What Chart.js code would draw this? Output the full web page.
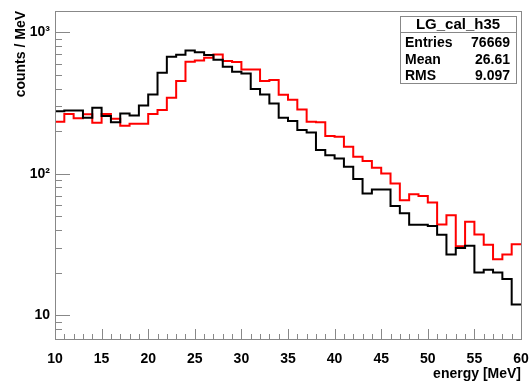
<!DOCTYPE html>
<html>
<head>
<meta charset="utf-8">
<script src="https://cdn.jsdelivr.net/npm/chart.js@4.4.0/dist/chart.umd.min.js"></script>
<style>
  html, body { margin: 0; padding: 0; background: #fff; }
</style>
</head>
<body>
<canvas id="c" width="529" height="383"></canvas>
<script>
// histogram bins (1 MeV wide, low edges), last edge separately
const binLow = [10,11,12,13,14,15,16,17,18,19,20,21,22,23,24,25,26,27,28,29,
                30,31,32,33,34,35,36,37,38,39,40,41,42,43,44,45,46,47,48,49,
                50,51,52,53,54,55,56,57,58,59];
const binHigh = 60;

// counts / MeV
const blackCounts = [277,280,280,249,293,256,231,267,258,304,
                     364,518,672,694,745,722,691,640,571,527,
                     512,397,364,314,249,236,204,196,147,135,
                     128,112,91.6,72.5,77.4,77.4,59,52.6,43.6,43.6,
                     42.7,37,26.8,29.8,30.9,20,20.9,20,18,11.9];
const redCounts = [233,264,247,263,229,264,245,218,226,226,
                   264,282,345,452,620,633,661,698,626,616,
                   547,547,452,460,362,334,285,233,231,184.5,
                   182.5,155,131.7,122.8,110.2,100.4,85.3,65,71.5,69.6,
                   62.6,43.8,50.8,30.7,45.7,37.2,31.4,24.8,26.8,31.7];

// axes
const xMajorTicks = [10,15,20,25,30,35,40,45,50,55,60];
const yMajorTicks = [10,100,1000];
const yTickLabels = ['10','10\u00B2','10\u00B3'];
const yMinorTicks = [8,9,20,30,40,50,60,70,80,90,200,300,400,500,600,700,800,900];

// stats box
const statsTitle = 'LG_cal_h35';
const statsNames = ['Entries','Mean','RMS'];
const statsValues = ['76669','26.61','9.097'];

const FONT = "'Liberation Sans', Arial, Helvetica, sans-serif";
Chart.defaults.font.family = FONT;

function histPoints(counts){
  const pts = binLow.map((x,i)=>({x:x, y:counts[i]}));
  pts.push({x:binHigh, y:counts[counts.length-1]});
  return pts;
}

// ROOT style frame with inside ticks
const frameAndTicks = {
  id: 'frameAndTicks',
  afterDatasetsDraw(chart){
    const {ctx, chartArea:a, scales:{x, y}} = chart;
    ctx.save();
    ctx.strokeStyle = '#888';
    ctx.lineWidth = 1;
    ctx.strokeRect(Math.round(a.left)+0.5, Math.round(a.top)+0.5,
                   Math.round(a.right-a.left), Math.round(a.bottom-a.top));
    ctx.beginPath();
    x.ticks.forEach(t=>{
      const px = Math.round(x.getPixelForValue(t.value))+0.5;
      const len = xMajorTicks.includes(t.value) ? 10 : 5;
      ctx.moveTo(px, a.bottom); ctx.lineTo(px, a.bottom-len);
    });
    y.ticks.forEach(t=>{
      const py = Math.round(y.getPixelForValue(t.value))+0.5;
      const len = yMajorTicks.includes(t.value) ? 15 : 7;
      ctx.moveTo(a.left, py); ctx.lineTo(a.left+len, py);
    });
    ctx.stroke();
    ctx.restore();
  }
};

const statsBox = {
  id: 'statsBox',
  afterDraw(chart){
    const ctx = chart.ctx;
    const bx = 400, by = 16, bw = 116, bh = 67;
    ctx.save();
    ctx.fillStyle = '#fff';
    ctx.fillRect(bx, by, bw, bh);
    ctx.strokeStyle = '#888';
    ctx.lineWidth = 1;
    ctx.strokeRect(bx+0.5, by+0.5, bw, bh);
    ctx.beginPath();
    ctx.moveTo(bx, by+16.5); ctx.lineTo(bx+bw, by+16.5);
    ctx.stroke();
    ctx.fillStyle = '#000';
    ctx.textBaseline = 'middle';
    ctx.font = 'bold 15px ' + FONT;
    ctx.textAlign = 'center';
    ctx.fillText(statsTitle, bx+bw/2, by+9);
    ctx.font = 'bold 14px ' + FONT;
    statsNames.forEach((n,i)=>{
      const ty = by + 27.5 + i*16.5;
      ctx.textAlign = 'left';
      ctx.fillText(n, bx+5, ty);
      ctx.textAlign = 'right';
      ctx.fillText(statsValues[i], bx+bw-6, ty);
    });
    ctx.restore();
  }
};

new Chart(document.getElementById('c'), {
  type: 'line',
  data: {
    datasets: [
      { label: 'black', data: histPoints(blackCounts), borderColor: '#000', borderWidth: 2,
        stepped: 'before', pointRadius: 0, fill: false },
      { label: 'red', data: histPoints(redCounts), borderColor: '#ff0000', borderWidth: 2,
        stepped: 'before', pointRadius: 0, fill: false }
    ]
  },
  options: {
    responsive: false,
    animation: false,
    layout: { padding: { top: 11, right: 8, left: 0, bottom: 0 } },
    plugins: { legend: { display: false }, tooltip: { enabled: false } },
    scales: {
      x: {
        type: 'linear', min: 10, max: 60,
        grid: { display: false, drawTicks: false },
        border: { display: false },
        afterBuildTicks: s => { s.ticks = binLow.concat([binHigh]).map(v=>({value:v})); },
        afterFit: s => { s.height = 44; s.paddingLeft = 0; s.paddingRight = 0; },
        ticks: {
          autoSkip: false, maxRotation: 0, padding: 12, color: '#000',
          font: { size: 14, weight: 'bold' },
          callback: v => xMajorTicks.includes(v) ? String(v) : ''
        },
        title: { display: true, text: 'energy [MeV]', align: 'end', color: '#000',
                 font: { size: 14, weight: 'bold' }, padding: { top: 0, bottom: 0 } }
      },
      y: {
        type: 'logarithmic', min: 6.77, max: 1416,
        grid: { display: false, drawTicks: false },
        border: { display: false },
        afterBuildTicks: s => {
          s.ticks = yMinorTicks.concat(yMajorTicks).sort((a,b)=>a-b).map(v=>({value:v}));
        },
        afterFit: s => { s.width = 55; s.paddingTop = 0; s.paddingBottom = 0; },
        ticks: {
          autoSkip: false, padding: 5, color: '#000',
          font: { size: 14, weight: 'bold' },
          callback: v => { const i = yMajorTicks.indexOf(v); return i >= 0 ? yTickLabels[i] : ''; }
        },
        title: { display: true, text: 'counts / MeV', align: 'end', color: '#000',
                 font: { size: 14, weight: 'bold' }, padding: { top: 13, bottom: 0 } }
      }
    }
  },
  plugins: [frameAndTicks, statsBox]
});
</script>
</body>
</html>
